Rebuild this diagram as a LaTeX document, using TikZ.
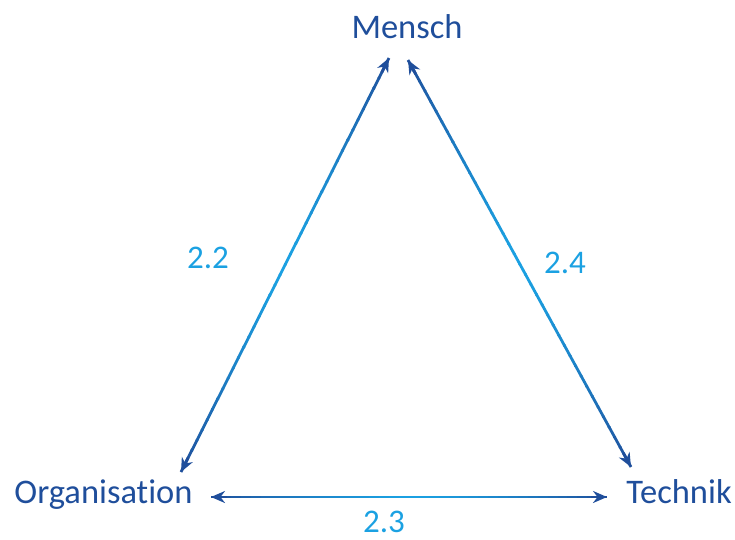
\documentclass[tikz,border=0pt]{standalone}
\usepackage{fontspec}
\setmainfont[Ligatures={NoCommon}]{Carlito}
\usetikzlibrary{calc,arrows.meta}
\definecolor{dkblue}{RGB}{31,78,155}
\definecolor{ltblue}{RGB}{27,161,226}
\tikzset{
 lbl/.style={font=\fontsize{34.5}{40}\selectfont, text=dkblue, inner sep=0pt, anchor=base},
 num/.style={font=\fontsize{33}{40}\selectfont, text=ltblue, inner sep=0pt, anchor=base},
 tipdraw/.style={-{Stealth[length=14pt,width=12pt]}, dkblue, line width=2.8pt},
 seg/.style={line width=2.8pt},
}
\newcommand{\gradline}[2]{%
  \foreach \i in {0,...,39}{%
    \pgfmathsetmacro{\ta}{\i/40}%
    \pgfmathsetmacro{\tb}{min((\i+1)/40+0.003,1)}%
    \pgfmathsetmacro{\f}{(abs(2*(\i+0.5)/40-1))^1.4*100}%
    \draw[seg, dkblue!\f!ltblue] ($(#1)!\ta!(#2)$) -- ($(#1)!\tb!(#2)$);
  }%
  \draw[tipdraw] ($(#1)!16pt!(#2)$) -- (#1);
  \draw[tipdraw] ($(#2)!16pt!(#1)$) -- (#2);
}
\begin{document}
\begin{tikzpicture}[x=1pt,y=-1pt]
\useasboundingbox (0,0) rectangle (735,539);
\node[lbl] (m) at (407,38) {Mensch};
\node[lbl] (o) at (103.5,503) {Organisation};
\node[lbl] (t) at (679,503) {Technik};
\node[num] (n22) at (208,268) {2.2};
\node[num] (n24) at (565,273) {2.4};
\node[num] (n23) at (384,532) {2.3};
\coordinate (mL) at (389,58);
\coordinate (mR) at (408,60);
\coordinate (oT) at (181,472);
\coordinate (oR) at (211,497);
\coordinate (tL) at (607,497);
\coordinate (tT) at (631,467);
\gradline{oT}{mL}
\gradline{mR}{tT}
\gradline{oR}{tL}
\end{tikzpicture}
\end{document}
